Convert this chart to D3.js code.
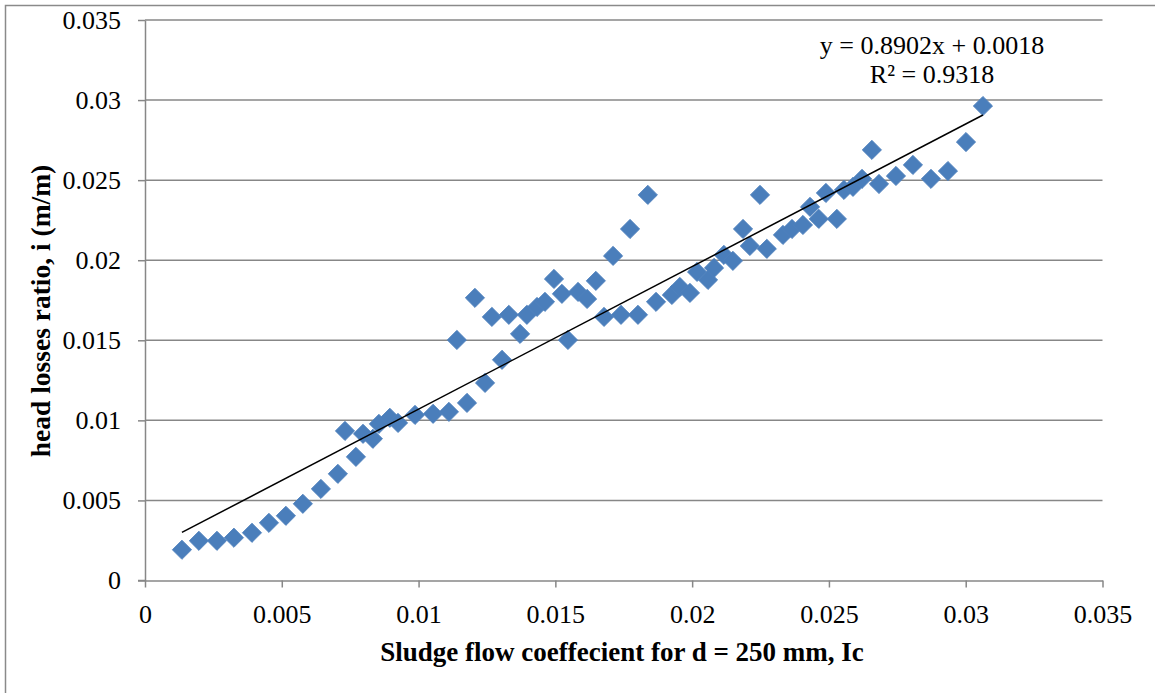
<!DOCTYPE html>
<html>
<head>
<meta charset="utf-8">
<script src="https://cdn.jsdelivr.net/npm/d3@7"></script>
<style>
  html, body { margin: 0; padding: 0; background: #fff; }
  svg { display: block; }
  text { font-family: "Liberation Serif", "Times New Roman", serif; fill: #000; }
</style>
</head>
<body>
<svg id="chart" width="1155" height="693"></svg>
<script>
// Sludge flow coefficient Ic (x) vs. head losses ratio i (y), d = 250 mm
const flowCoeff = [
  0.00135, 0.00197, 0.00263, 0.00325, 0.00391, 0.00453, 0.00515, 0.00577, 0.00643, 0.00705,
  0.00731, 0.00771, 0.00797, 0.00833, 0.00855, 0.00895, 0.00925, 0.00987, 0.01053, 0.01111,
  0.01140, 0.01177, 0.01206, 0.01243, 0.01268, 0.01305, 0.01330, 0.01371, 0.01396, 0.01433,
  0.01462, 0.01495, 0.01524, 0.01546, 0.01583, 0.01616, 0.01648, 0.01678, 0.01711, 0.01740,
  0.01773, 0.01802, 0.01838, 0.01868, 0.01926, 0.01955, 0.01992, 0.02018, 0.02058, 0.02080,
  0.02116, 0.02149, 0.02186, 0.02211, 0.02248, 0.02273, 0.02332, 0.02365, 0.02405, 0.02431,
  0.02463, 0.02489, 0.02529, 0.02555, 0.02588, 0.02621, 0.02657, 0.02683, 0.02745, 0.02807,
  0.02873, 0.02935, 0.03001, 0.03063
];
const headLoss = [
  0.00192, 0.00248, 0.00248, 0.00267, 0.00298, 0.00360, 0.00404, 0.00479, 0.00572, 0.00666,
  0.00934, 0.00772, 0.00916, 0.00885, 0.00978, 0.01016, 0.00984, 0.01034, 0.01041, 0.01053,
  0.01502, 0.01109, 0.01765, 0.01234, 0.01646, 0.01378, 0.01659, 0.01540, 0.01659, 0.01708,
  0.01740, 0.01883, 0.01790, 0.01502, 0.01802, 0.01758, 0.01871, 0.01646, 0.02027, 0.01659,
  0.02195, 0.01659, 0.02408, 0.01740, 0.01783, 0.01833, 0.01796, 0.01927, 0.01877, 0.01952,
  0.02033, 0.01996, 0.02195, 0.02089, 0.02408, 0.02071, 0.02158, 0.02195, 0.02220, 0.02333,
  0.02258, 0.02420, 0.02258, 0.02439, 0.02458, 0.02508, 0.02689, 0.02476, 0.02526, 0.02595,
  0.02508, 0.02557, 0.02738, 0.02963
];

// Linear trend line reported on the chart
const trendSlope = 0.8902;
const trendIntercept = 0.0018;
const trendLabel = ["y = 0.8902x + 0.0018", "R² = 0.9318"];

const xTicks = [0, 0.005, 0.01, 0.015, 0.02, 0.025, 0.03, 0.035];
const yTicks = [0, 0.005, 0.01, 0.015, 0.02, 0.025, 0.03, 0.035];
const xTickLabels = ["0", "0.005", "0.01", "0.015", "0.02", "0.025", "0.03", "0.035"];
const yTickLabels = ["0", "0.005", "0.01", "0.015", "0.02", "0.025", "0.03", "0.035"];

const xTitle = "Sludge flow coeffecient for d = 250 mm, Ic";
const yTitle = "head losses ratio, i (m/m)";

const points = flowCoeff.map((x, i) => ({ x, y: headLoss[i] }));

const svg = d3.select("#chart");
const plot = { left: 145, right: 1102.5, top: 20, bottom: 580.5 };

const x = d3.scaleLinear().domain([0, 0.035]).range([plot.left, plot.right]);
const y = d3.scaleLinear().domain([0, 0.035]).range([plot.bottom, plot.top]);

const gridColor = "#878787";

// outer chart frame
svg.append("rect")
  .attr("x", 5.5).attr("y", 5.5)
  .attr("width", 1160).attr("height", 700)
  .attr("fill", "none").attr("stroke", "#8a8a8a").attr("stroke-width", 1.5);

// horizontal gridlines
svg.append("g")
  .selectAll("line")
  .data(yTicks.filter(d => d > 0))
  .join("line")
  .attr("x1", plot.left).attr("x2", plot.right)
  .attr("y1", d => y(d)).attr("y2", d => y(d))
  .attr("stroke", gridColor).attr("stroke-width", 1.5);

// y axis
const yAxis = d3.axisLeft(y)
  .tickValues(yTicks)
  .tickFormat((d, i) => yTickLabels[i])
  .tickSize(7)
  .tickPadding(17)
  .tickSizeOuter(0);
const gy = svg.append("g").attr("transform", `translate(${plot.left},0)`).call(yAxis);
gy.select(".domain").attr("stroke", gridColor).attr("stroke-width", 1.5);
gy.selectAll(".tick line").attr("stroke", gridColor).attr("stroke-width", 1.5);
gy.selectAll(".tick text")
  .attr("font-family", "Liberation Serif, Times New Roman, serif")
  .attr("font-size", 26).attr("fill", "#000");

// x axis
const xAxis = d3.axisBottom(x)
  .tickValues(xTicks)
  .tickFormat((d, i) => xTickLabels[i])
  .tickSize(7)
  .tickPadding(17)
  .tickSizeOuter(0);
const gx = svg.append("g").attr("transform", `translate(0,${plot.bottom})`).call(xAxis);
gx.select(".domain").attr("stroke", gridColor).attr("stroke-width", 1.5);
gx.selectAll(".tick line").attr("stroke", gridColor).attr("stroke-width", 1.5);
gx.selectAll(".tick text")
  .attr("font-family", "Liberation Serif, Times New Roman, serif")
  .attr("font-size", 26).attr("fill", "#000");

// the y = 0 tick extends left along the axis too
svg.append("line")
  .attr("x1", plot.left - 7).attr("x2", plot.left)
  .attr("y1", y(0)).attr("y2", y(0))
  .attr("stroke", gridColor).attr("stroke-width", 1.5);

// data markers: diamonds
const diamond = d3.symbol().type(d3.symbolSquare).size(185);
svg.append("g")
  .selectAll("path")
  .data(points)
  .join("path")
  .attr("d", diamond)
  .attr("transform", d => `translate(${x(d.x)},${y(d.y)}) rotate(45)`)
  .attr("fill", "#4A7EBB")
  .attr("stroke", "#4F81BD")
  .attr("stroke-width", 0.8);

// linear trend line over the data range
const xMin = d3.min(flowCoeff), xMax = d3.max(flowCoeff);
const trend = [xMin, xMax].map(v => ({ x: v, y: trendSlope * v + trendIntercept }));
svg.append("path")
  .datum(trend)
  .attr("d", d3.line().x(d => x(d.x)).y(d => y(d.y)))
  .attr("fill", "none")
  .attr("stroke", "#000")
  .attr("stroke-width", 1.5);

// trend equation
const eq = svg.append("text")
  .attr("x", 932).attr("y", 54)
  .attr("text-anchor", "middle")
  .attr("font-size", 26);
eq.append("tspan").attr("x", 932).attr("y", 54).text(trendLabel[0]);
eq.append("tspan").attr("x", 932).attr("y", 83).text(trendLabel[1]);

// axis titles
svg.append("text")
  .attr("x", 622).attr("y", 661)
  .attr("text-anchor", "middle")
  .attr("font-weight", "bold")
  .attr("font-size", 27)
  .text(xTitle);

svg.append("text")
  .attr("transform", `translate(50,311) rotate(-90)`)
  .attr("text-anchor", "middle")
  .attr("font-weight", "bold")
  .attr("font-size", 27.5)
  .text(yTitle);
</script>
</body>
</html>
